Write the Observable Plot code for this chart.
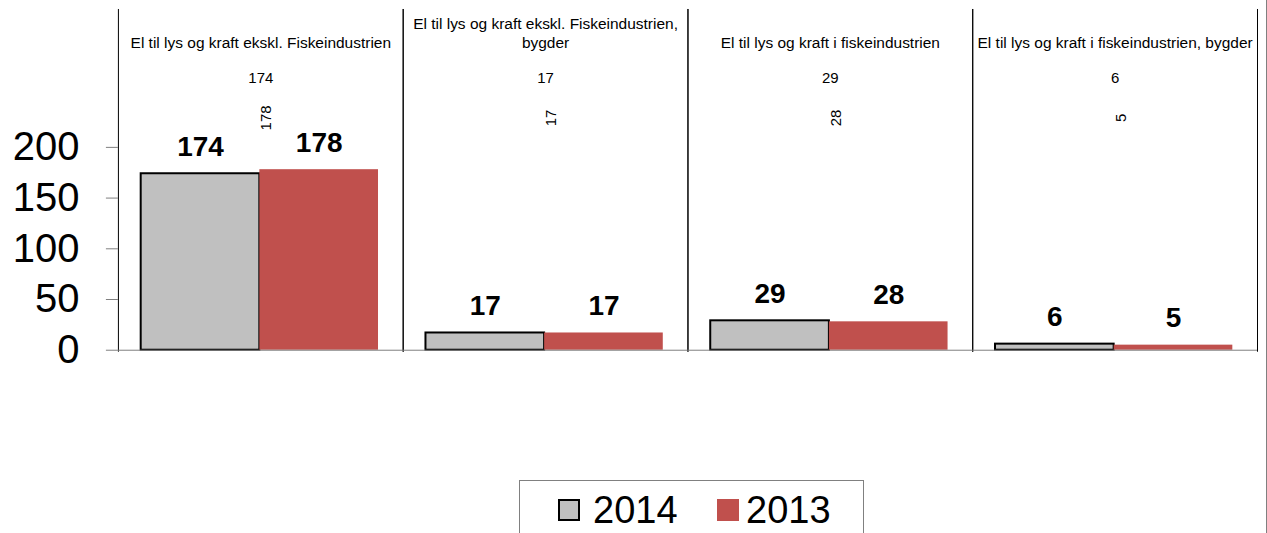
<!DOCTYPE html>
<html>
<head>
<meta charset="utf-8">
<script src="https://cdn.jsdelivr.net/npm/d3@7"></script>
<script src="https://cdn.jsdelivr.net/npm/@observablehq/plot@0.6"></script>
<style>
  body { margin: 0; background: #fff; font-family: "Liberation Sans", Arial, sans-serif; }
  #wrap { position: relative; width: 1267px; height: 533px; box-sizing: border-box; border-right: 1px solid #808080; overflow: hidden; background: #fff; }
  #legend { position: absolute; left: 519px; top: 480px; width: 345px; height: 60px; box-sizing: border-box; border: 1px solid #808080; background: #fff; }
  #legend .sw { position: absolute; top: 18px; width: 22px; height: 22px; box-sizing: border-box; }
  #legend .lb { position: absolute; top: 10px; font-size: 38px; line-height: 38px; color: #000; white-space: nowrap; }
</style>
</head>
<body>
<div id="wrap"></div>
<script>
// ---- data ----
const categories = [
  "El til lys og kraft ekskl. Fiskeindustrien",
  "El til lys og kraft ekskl. Fiskeindustrien, bygder",
  "El til lys og kraft i fiskeindustrien",
  "El til lys og kraft i fiskeindustrien, bygder"
];
const headerLabels = [
  "El til lys og kraft ekskl. Fiskeindustrien",
  "El til lys og kraft ekskl. Fiskeindustrien,\nbygder",
  "El til lys og kraft i fiskeindustrien",
  "El til lys og kraft i fiskeindustrien, bygder"
];
const years = ["2014", "2013"];
const values2014 = [174, 17, 29, 6];
const values2013 = [178, 17, 28, 5];
const yTicks = [0, 50, 100, 150, 200];
const seriesColors = ["#c0c0c0", "#c0504d"];

const rows2014 = categories.map((c, i) => ({cat: c, year: years[0], value: values2014[i]}));
const rows2013 = categories.map((c, i) => ({cat: c, year: years[1], value: values2013[i]}));
const rows = rows2014.concat(rows2013);
const headers = categories.map((c, i) => ({cat: c, label: headerLabels[i]}));

const chart = Plot.plot({
  width: 1267,
  height: 470,
  marginLeft: 117,
  marginRight: 9,
  marginTop: 9,
  marginBottom: 119,
  style: {fontFamily: '"Liberation Sans", Arial, sans-serif', background: "transparent", color: "#000"},
  fx: {domain: categories, padding: 0, axis: null},
  x: {domain: years, paddingInner: 0, paddingOuter: 0.2, align: 0.48, round: false, axis: null},
  y: {domain: [0, 200], range: [350, 147], axis: null},
  marks: [
    Plot.frame({anchor: "left", stroke: "#000"}),
    Plot.frame({anchor: "right", stroke: "#000"}),
    Plot.barY(rows2014, {fx: "cat", x: "year", y: "value", fill: seriesColors[0], stroke: "#000", strokeWidth: 2}),
    Plot.barY(rows2013, {fx: "cat", x: "year", y: "value", fill: seriesColors[1]}),
    Plot.ruleY([0], {stroke: "#808080"}),
    Plot.axisY({ticks: yTicks, tickSize: 12, tickPadding: 27, fontSize: 40, stroke: "#808080", fill: "#000", label: null}),
    Plot.text(rows, {fx: "cat", x: "year", y: "value", text: d => String(d.value),
      fontWeight: "bold", fontSize: 28, lineAnchor: "bottom", dy: -18, fill: "#000"}),
    Plot.text(headers, {fx: "cat", text: "label", frameAnchor: "top", lineAnchor: "bottom",
      dy: 39, fontSize: 15.5, lineHeight: 1.25, fill: "#000"}),
    Plot.text(rows2014, {fx: "cat", text: d => String(d.value), frameAnchor: "top",
      lineAnchor: "bottom", dy: 74, fontSize: 15, fill: "#000"}),
    Plot.text(rows2013, {fx: "cat", text: d => String(d.value), frameAnchor: "top",
      rotate: -90, dy: 108.5, fontSize: 15, fill: "#000"})
  ]
});

const wrap = document.getElementById("wrap");
wrap.appendChild(chart);

// legend (below the chart)
const legend = document.createElement("div");
legend.id = "legend";
const items = [
  {label: years[0], color: seriesColors[0], border: "2px solid #000", sw: 38, lb: 73},
  {label: years[1], color: seriesColors[1], border: "none", sw: 197, lb: 226}
];
for (const it of items) {
  const sw = document.createElement("div");
  sw.className = "sw";
  sw.style.left = it.sw + "px";
  sw.style.background = it.color;
  sw.style.border = it.border;
  legend.appendChild(sw);
  const lb = document.createElement("div");
  lb.className = "lb";
  lb.style.left = it.lb + "px";
  lb.textContent = it.label;
  legend.appendChild(lb);
}
wrap.appendChild(legend);
</script>
</body>
</html>
